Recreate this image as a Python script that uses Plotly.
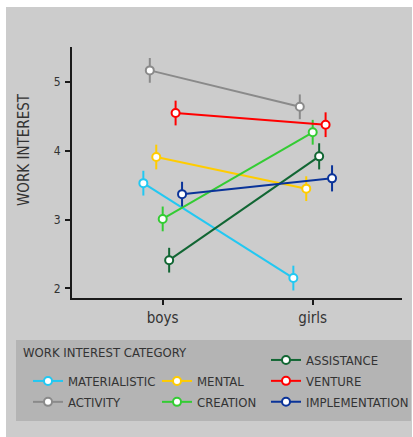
import plotly.graph_objects as go

genders = ["boys", "girls"]
categories = ["MATERIALISTIC", "ACTIVITY", "MENTAL", "CREATION",
              "ASSISTANCE", "VENTURE", "IMPLEMENTATION"]
colors = ["#22c8f2", "#8a8a8a", "#ffcc00", "#33cc33",
          "#116633", "#ff0000", "#0a3399"]
boys = [3.53, 5.17, 3.91, 3.01, 2.41, 4.55, 3.37]
girls = [2.15, 4.64, 3.45, 4.27, 3.92, 4.38, 3.60]
err_boys = [0.18, 0.18, 0.18, 0.18, 0.18, 0.18, 0.18]
err_girls = [0.18, 0.18, 0.18, 0.18, 0.19, 0.18, 0.19]
legend_of = ["legend", "legend", "legend2", "legend2",
             "legend3", "legend3", "legend3"]

FONT = "Liberation Sans Narrow, DejaVu Sans Condensed, Arial Narrow, sans-serif"
TXT = "#333333"
W, H = 413, 437
L, R, T, B = 72, 402, 47, 298
DODGE = 0.043

def px(x):
    return (x - L) / (R - L)

def py(y):
    return (B - y) / (B - T)

fig = go.Figure()
for i, cat in enumerate(categories):
    off = (i - 3) * DODGE
    fig.add_trace(go.Scatter(
        x=[g + off for g in range(len(genders))],
        y=[boys[i], girls[i]],
        error_y=dict(type="data", array=[err_boys[i], err_girls[i]],
                     color=colors[i], thickness=2, width=0),
        mode="lines+markers",
        name=cat,
        legendgroup=cat,
        line=dict(color=colors[i], width=2),
        marker=dict(symbol="circle", size=8, color="white",
                    line=dict(color=colors[i], width=2)),
        legend=legend_of[i],
    ))

legend_common = dict(bgcolor="rgba(0,0,0,0)", borderwidth=0,
                     font=dict(family=FONT, size=13, color=TXT),
                     orientation="v", xanchor="left", yanchor="top",
                     tracegroupgap=1,
                     itemclick=False, itemdoubleclick=False)

fig.update_layout(
    width=W, height=H,
    margin=dict(l=L, r=W - R, t=T, b=H - B, autoexpand=False),
    paper_bgcolor="white",
    plot_bgcolor="rgba(0,0,0,0)",
    font=dict(family=FONT, color=TXT),
    legend=dict(x=px(28), y=py(366), **legend_common),
    legend2=dict(x=px(157), y=py(366), **legend_common),
    legend3=dict(x=px(266), y=py(345), **legend_common),
    xaxis=dict(range=[(L - 162.7) / 150, (R - 162.7) / 150],
               tickvals=list(range(len(genders))), ticktext=genders,
               showgrid=False, zeroline=False, showline=True,
               linecolor="#1a1a1a", linewidth=2,
               ticks="outside", ticklen=5, tickwidth=2, tickcolor="#1a1a1a",
               tickfont=dict(family=FONT, size=15, color=TXT)),
    yaxis=dict(range=[1.86, 5.51], tickvals=[2, 3, 4, 5],
               showgrid=False, zeroline=False, showline=True,
               linecolor="#1a1a1a", linewidth=2,
               ticks="outside", ticklen=5, tickwidth=2, tickcolor="#1a1a1a",
               ticklabelstandoff=2,
               tickfont=dict(family=FONT, size=12, color=TXT)),
    shapes=[
        dict(type="rect", xref="paper", yref="paper", layer="below",
             x0=px(6), x1=px(412), y0=py(437), y1=py(7),
             fillcolor="#cccccc", line=dict(width=0)),
        dict(type="rect", xref="paper", yref="paper", layer="below",
             x0=px(16), x1=px(411), y0=py(421), y1=py(340),
             fillcolor="#b4b4b4", line=dict(width=0)),
    ],
    annotations=[
        dict(text="WORK INTEREST", textangle=-90, xref="paper", yref="paper",
             x=px(24), y=py(150), showarrow=False,
             xanchor="center", yanchor="middle",
             font=dict(family=FONT, size=15, color=TXT)),
        dict(text="WORK INTEREST CATEGORY", xref="paper", yref="paper",
             x=px(21), y=py(352), showarrow=False,
             xanchor="left", yanchor="middle",
             font=dict(family=FONT, size=13, color=TXT)),
    ],
)

fig.write_html("out.html",
               config={"displayModeBar": False},
               post_script="document.body.style.margin='0';document.body.style.padding='0';")
